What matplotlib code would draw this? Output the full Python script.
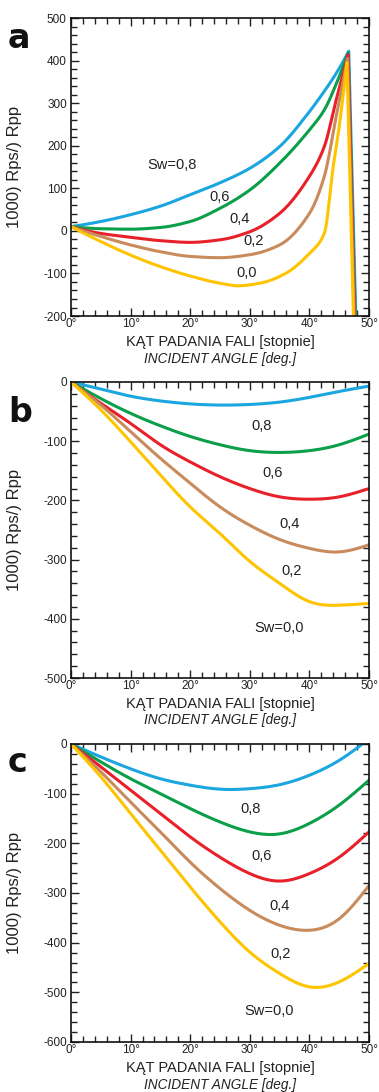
import numpy as np
import matplotlib.pyplot as plt
from matplotlib.ticker import MultipleLocator, FuncFormatter

plt.rcParams['font.family'] = ['Liberation Sans', 'DejaVu Sans']

colors = ["#1ba6e0", "#0a9f48", "#e8202a", "#c98a5c", "#ffc400"]
sw_labels = ["0,8", "0,6", "0,4", "0,2", "0,0"]

# panel a (last point of each series = steep drop below the axis)
a_x = [
    [0, 5, 10, 15, 20, 25, 30, 35, 40, 42.5, 44.5, 46.6, 47.9],
    [0, 5, 10, 15, 20, 25, 30, 35, 40, 42.5, 44.5, 46.5, 47.8],
    [0, 5, 10, 15, 20, 25, 30, 35, 40, 42.5, 44.5, 46.5, 47.7],
    [0, 5, 10, 15, 20, 25, 30, 35, 40, 42.5, 44.5, 46.4, 47.6],
    [0, 5, 10, 15, 20, 25, 28, 32, 36, 40, 42.5, 44, 45, 46.3, 47.5],
]
a_y = [
    [10, 22, 38, 58, 85, 113, 147, 198, 280, 328, 370, 422, -260],
    [10, 5, 4, 8, 22, 53, 96, 159, 237, 284, 345, 418, -260],
    [10, -6, -15, -23, -27, -21, -2, 41, 128, 198, 308, 414, -260],
    [10, -13, -33, -49, -60, -63, -56, -33, 41, 128, 269, 405, -260],
    [10, -25, -57, -84, -106, -123, -129, -122, -100, -53, -6, 151, 245, 395, -260],
]
a_text_x = [16.9, 25, 28.2, 30.6, 29.5]
a_text_y = [155, 80, 28, -23, -98]

# panel b
b_x = [0, 5, 10, 15, 20, 25, 30, 35, 40, 45, 50]
b_y = [
    [0, -12, -24, -32, -37, -39, -38, -34, -26, -16, -7],
    [0, -28, -53, -74, -92, -106, -116, -119, -116, -106, -88],
    [0, -36, -70, -106, -135, -160, -180, -194, -198, -194, -180],
    [0, -39, -84, -129, -171, -211, -242, -266, -281, -287, -275],
    [0, -47, -101, -157, -211, -256, -303, -340, -371, -377, -374],
]
b_text_x = [32, 33.8, 36.7, 37, 35]
b_text_y = [-75, -153, -240, -319, -416]

# panel c
c_x = [0, 5, 10, 15, 20, 25, 30, 35, 40, 45, 50]
c_y = [
    [0, -26, -50, -70, -83, -91, -90, -82, -63, -33, 10],
    [0, -36, -70, -100, -130, -157, -177, -181, -160, -123, -73],
    [0, -46, -93, -140, -187, -228, -261, -276, -261, -228, -177],
    [0, -56, -117, -177, -238, -291, -335, -365, -375, -352, -285],
    [0, -66, -140, -214, -288, -358, -419, -462, -489, -479, -442],
]
c_text_x = [30.2, 32, 35, 35.1, 33.3]
c_text_y = [-130, -226, -326, -422, -538]


def pchip(x, y, per=25):
    # monotone cubic (Fritsch-Carlson) through the read points
    x = np.asarray(x, float)
    y = np.asarray(y, float)
    h = np.diff(x)
    d = np.diff(y) / h
    n = len(x)
    m = np.zeros(n)
    for i in range(1, n - 1):
        if d[i - 1] * d[i] > 0:
            w1 = 2 * h[i] + h[i - 1]
            w2 = h[i] + 2 * h[i - 1]
            m[i] = (w1 + w2) / (w1 / d[i - 1] + w2 / d[i])
    m[0] = ((2 * h[0] + h[1]) * d[0] - h[0] * d[1]) / (h[0] + h[1])
    if np.sign(m[0]) != np.sign(d[0]):
        m[0] = 0
    m[-1] = ((2 * h[-1] + h[-2]) * d[-1] - h[-1] * d[-2]) / (h[-1] + h[-2])
    if np.sign(m[-1]) != np.sign(d[-1]):
        m[-1] = 0
    xx, yy = [], []
    for i in range(n - 1):
        t = np.linspace(0, 1, per, endpoint=False)
        h00 = 2 * t**3 - 3 * t**2 + 1
        h10 = t**3 - 2 * t**2 + t
        h01 = -2 * t**3 + 3 * t**2
        h11 = t**3 - t**2
        xx.extend(x[i] + t * h[i])
        yy.extend(h00 * y[i] + h10 * h[i] * m[i] + h01 * y[i + 1] + h11 * h[i] * m[i + 1])
    xx.append(x[-1])
    yy.append(y[-1])
    return xx, yy


def spline(x, y, per=25):
    # natural cubic spline through the read points
    x = np.asarray(x, float)
    y = np.asarray(y, float)
    n = len(x)
    h = np.diff(x)
    d = np.diff(y) / h
    A = np.zeros((n, n))
    r = np.zeros(n)
    A[0, 0] = A[-1, -1] = 1
    for i in range(1, n - 1):
        A[i, i - 1] = h[i - 1]
        A[i, i] = 2 * (h[i - 1] + h[i])
        A[i, i + 1] = h[i]
        r[i] = 6 * (d[i] - d[i - 1])
    M = np.linalg.solve(A, r)
    xx, yy = [], []
    for i in range(n - 1):
        t = np.linspace(x[i], x[i + 1], per, endpoint=False)
        a = x[i + 1] - t
        b = t - x[i]
        s = (M[i] * a**3 + M[i + 1] * b**3) / (6 * h[i]) \
            + (y[i] / h[i] - M[i] * h[i] / 6) * a + (y[i + 1] / h[i] - M[i + 1] * h[i] / 6) * b
        xx.extend(t)
        yy.extend(s)
    xx.append(x[-1])
    yy.append(y[-1])
    return xx, yy


fig = plt.figure(figsize=(3.79, 10.92), dpi=100)

panels = [
    ("a", [0.1873, 0.7106, 0.7863, 0.2729], (-200, 500), 48),
    ("b", [0.1873, 0.3791, 0.7863, 0.2711], (-500, 0), 422),
    ("c", [0.1873, 0.0458, 0.7863, 0.2729], (-600, 0), 772),
]

for k, (letter, rect, ylim, letter_y) in enumerate(panels):
    ax = fig.add_axes(rect)
    if k == 0:
        for i in range(5):
            xx, yy = pchip(a_x[i][:-1], a_y[i][:-1])
            xx.append(a_x[i][-1])
            yy.append(a_y[i][-1])
            ax.plot(xx, yy, color=colors[i], lw=2.2)
        xs_lab, ys_lab = a_text_x, a_text_y
        labels = ["Sw=0,8"] + sw_labels[1:]
    elif k == 1:
        for i in range(5):
            xx, yy = spline(b_x, b_y[i])
            ax.plot(xx, yy, color=colors[i], lw=2.2)
        xs_lab, ys_lab = b_text_x, b_text_y
        labels = sw_labels[:4] + ["Sw=0,0"]
    else:
        for i in range(5):
            xx, yy = spline(c_x, c_y[i])
            ax.plot(xx, yy, color=colors[i], lw=2.2)
        xs_lab, ys_lab = c_text_x, c_text_y
        labels = sw_labels[:4] + ["Sw=0,0"]

    for t, tx, ty in zip(labels, xs_lab, ys_lab):
        ax.text(tx, ty, t, fontsize=10.5, ha="center", va="center", color="#222222")

    ax.set_xlim(0, 50)
    ax.set_ylim(*ylim)
    ax.xaxis.set_major_locator(MultipleLocator(10))
    ax.xaxis.set_minor_locator(MultipleLocator(2))
    ax.yaxis.set_major_locator(MultipleLocator(100))
    ax.yaxis.set_minor_locator(MultipleLocator(20))
    ax.xaxis.set_major_formatter(FuncFormatter(lambda v, p: "%d°" % v))
    ax.yaxis.set_major_formatter(FuncFormatter(lambda v, p: "%d" % v))
    ax.tick_params(which="both", direction="in", top=True, right=True,
                   width=1.0, labelsize=8.5, colors="#222222")
    ax.tick_params(axis="x", pad=1.5)
    ax.tick_params(axis="y", pad=3)
    ax.tick_params(which="major", length=6)
    ax.tick_params(which="minor", length=4)
    for s in ax.spines.values():
        s.set_linewidth(1.2)
        s.set_color("#111111")
    ax.set_ylabel("1000) Rps/) Rpp", fontsize=12, color="#222222")
    ax.yaxis.set_label_coords(-0.164, 0.5)
    ax.text(0.5, -0.087, "KĄT PADANIA FALI [stopnie]", transform=ax.transAxes,
            fontsize=10.5, ha="center", va="center", color="#222222")
    ax.text(0.5, -0.143, "INCIDENT ANGLE [deg.]", transform=ax.transAxes,
            fontsize=9.8, style="italic", ha="center", va="center", color="#222222")

    fig.text(8 / 379, 1 - letter_y / 1092, letter, fontsize=24, fontweight="heavy",
             family=["DejaVu Sans"], ha="left", va="baseline", color="#111111")

fig.savefig("out.png", dpi=100)
